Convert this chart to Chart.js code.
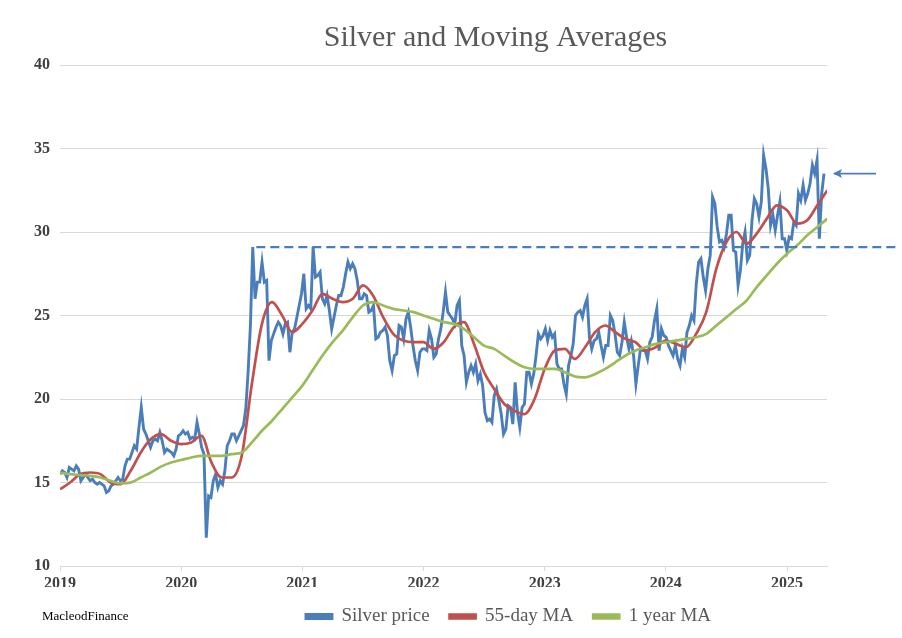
<!DOCTYPE html>
<html>
<head>
<meta charset="utf-8">
<script src="https://cdn.jsdelivr.net/npm/chart.js@4.4.1/dist/chart.umd.min.js"></script>
<style>
  html, body { margin: 0; padding: 0; background: #ffffff; }
  #wrap { position: relative; width: 902px; height: 638px; }
  #credit { position: absolute; left: 42px; top: 608px; font-family: "Liberation Serif", "DejaVu Serif", serif; font-size: 13px; color: #000; }
</style>
</head>
<body>
<div id="wrap">
  <canvas id="chart" width="902" height="638"></canvas>
  <div id="credit">MacleodFinance</div>
</div>
<script>
// ---- Data ----
// Weekly silver price, one array per calendar year (52 weeks each, 2025 partial)
const silver2019 = [15.5,15.7,15.6,15.3,15.9, 15.8,15.7,16.0,15.8, 15.1,15.3,15.5,15.3, 15.1,15.2,15.0,14.9,15.0, 14.9,14.8,14.4,14.5, 14.8,14.9,15.1,15.3, 15.1,15.2,16.0,16.4,16.4, 16.8,17.2,17.0,18.3, 19.5,18.2,17.9,17.5, 17.1,17.5,17.6,17.5,18.0, 17.5,16.8,17.0,16.9, 16.8,16.6,17.0,17.8];
const silver2020 = [17.9,18.1,17.9,18.0,17.6, 17.7,17.6,18.6,17.9, 17.1,16.7,11.7,14.2,14.1, 15.1,15.5,14.7,15.1, 14.9,15.7,17.2,17.5, 17.9,17.9,17.5,17.8, 18.1,18.4,19.4,21.6,24.4, 29.1,26.0,27.0,27.0, 28.2,27.0,27.1,22.3,23.5, 23.9,24.3,24.6,24.4, 23.9,24.5,24.6,22.8, 24.0,24.2,24.9,25.6];
const silver2021 = [26.3,27.5,25.4,25.6,25.4, 29.1,27.3,27.4,27.6, 26.0,25.7,26.2,25.3,24.2, 24.9,25.6,26.2,26.2, 26.7,27.5,28.2,27.8, 28.1,27.8,27.1,26.0,26.0, 26.3,26.2,25.2,25.3, 25.6,23.6,23.7,24.0,24.1, 24.3,23.8,22.3,21.7, 22.6,22.7,24.4,24.3, 23.6,24.8,25.2,24.3,23.2, 22.3,21.7,22.8];
const silver2022 = [23.0,23.0,22.9,24.1,23.6, 22.5,22.7,23.6,24.2, 25.2,26.4,25.2,25.0,24.8, 24.5,25.6,25.9,23.2, 22.6,21.0,21.6,22.0,21.6, 22.1,21.1,21.5,20.8, 19.2,18.7,18.8,18.6, 20.2,20.6,19.9,19.1,17.9, 18.2,19.6,19.5,18.5, 21.0,19.2,18.3,19.5, 19.7,21.6,21.6,20.9,21.5, 22.6,23.9,23.6];
const silver2023 = [23.8,24.2,23.5,24.1,23.7,23.9, 22.1,21.8,21.8,20.9, 20.3,22.0,22.6,23.3, 25.0,25.2,25.3,24.9, 25.6,26.0,23.7,23.0,23.5, 23.6,24.0,23.2,22.5, 23.2,23.2,25.0,24.7, 23.9,22.8,22.6,23.4,24.6, 23.7,23.0,23.5,22.6, 20.9,22.0,23.0,22.9,22.9, 22.4,23.4,23.7,24.7, 25.4,22.9,24.2];
const silver2024 = [23.8,23.7,23.2,22.9,22.6,23.2, 22.4,22.0,23.0,22.5, 24.0,24.4,25.0,24.7, 26.9,28.2,28.4,27.3,26.5, 27.8,28.6,32.1,31.7, 30.3,29.4,29.5,29.1, 29.9,31.0,31.0,28.9,28.8, 26.8,27.7,29.3,30.0, 28.3,28.6,30.7,32.0, 31.7,30.9,31.8,34.6,33.8, 32.6,30.4,31.0,30.1, 31.0,31.8,29.6];
const silver2025 = [29.6,28.9,29.7,29.6,30.6,30.4, 32.3,31.9,32.8,31.9, 32.3,32.9,34.0,33.5, 34.3,29.6,32.3,33.5];

// Monthly readings of the moving averages (Jan 2019 .. May 2025)
const ma55 = [
  14.6,15.0,15.5,15.6,15.5,15.0,14.9,15.7,16.8,17.6,17.9,17.5,
  17.3,17.4,17.8,16.2,15.3,15.3,16.6,20.9,24.5,25.8,25.0,24.0,
  24.5,25.3,26.3,26.0,25.8,26.0,26.8,26.2,24.9,23.9,23.5,23.4,
  23.4,23.0,23.4,24.3,24.6,23.3,21.6,20.6,19.7,19.3,19.1,20.0,
  21.8,22.9,23.0,22.4,23.1,24.0,24.4,24.0,23.6,23.4,22.9,23.1,
  23.5,23.3,23.1,23.9,25.2,27.8,29.4,30.0,29.3,29.9,30.8,31.6,
  31.3,30.5,30.7,31.6,32.5
];
const ma1y = [
  15.6,15.5,15.45,15.4,15.3,15.1,14.95,15.0,15.3,15.6,15.95,16.2,
  16.35,16.5,16.6,16.6,16.6,16.7,16.8,17.4,18.1,18.7,19.4,20.1,
  20.8,21.7,22.6,23.4,24.1,24.9,25.6,25.8,25.6,25.4,25.3,25.2,
  25.0,24.8,24.6,24.5,24.2,23.7,23.2,23.0,22.6,22.2,21.9,21.8,
  21.8,21.8,21.6,21.35,21.3,21.5,21.8,22.2,22.6,22.9,23.1,23.3,
  23.4,23.5,23.6,23.7,23.9,24.4,24.9,25.4,25.9,26.7,27.4,28.1,
  28.7,29.2,29.8,30.3,30.8
];

const yearTicks = [2019, 2020, 2021, 2022, 2023, 2024, 2025];
const seriesNames = ['Silver price', '55-day MA', '1 year MA'];
const resistanceLevel = 29.1;   // dashed horizontal line
const resistanceFrom = 2020.62; // starts at the Aug 2020 high
const arrowLevel = 33.5;        // arrow on the right margin

// ---- Build point lists (x = decimal year) ----
const silverWeekly = [].concat(silver2019, silver2020, silver2021, silver2022, silver2023, silver2024, silver2025);
const silverPoints = silverWeekly.map((v, i) => ({ x: 2019 + i * 7 / 365.25, y: v }));
const ma55Points = ma55.map((v, i) => ({ x: 2019 + i / 12, y: v }));
const ma1yPoints = ma1y.map((v, i) => ({ x: 2019 + i / 12, y: v }));

const BLUE = '#4a7ebb', RED = '#c0504d', GREEN = '#9bbb59';
const SERIF = '"Liberation Serif", "DejaVu Serif", serif';

const shiftPlugin = {
  id: 'shiftBlocks',
  afterLayout(chart) {
    if (chart.titleBlock) { chart.titleBlock.left += 78; chart.titleBlock.right += 78; }
    if (chart.legend) { chart.legend.left += 91; chart.legend.right += 91; }
  }
};

const annotPlugin = {
  id: 'annot',
  afterDatasetsDraw(chart) {
    const { ctx, scales: { x, y }, chartArea } = chart;
    ctx.save();
    const yy = y.getPixelForValue(resistanceLevel);
    ctx.strokeStyle = BLUE;
    ctx.lineWidth = 2.2;
    ctx.setLineDash([9, 5]);
    ctx.beginPath();
    ctx.moveTo(x.getPixelForValue(resistanceFrom), yy);
    ctx.lineTo(chart.width - 2, yy);
    ctx.stroke();
    ctx.setLineDash([]);
    const ay = y.getPixelForValue(arrowLevel);
    const tip = chartArea.right + 6;
    ctx.lineWidth = 1.8;
    ctx.beginPath();
    ctx.moveTo(chartArea.right + 49, ay);
    ctx.lineTo(tip + 1, ay);
    ctx.stroke();
    ctx.fillStyle = BLUE;
    ctx.beginPath();
    ctx.moveTo(tip, ay);
    ctx.lineTo(tip + 9, ay - 4.5);
    ctx.lineTo(tip + 7, ay);
    ctx.lineTo(tip + 9, ay + 4.5);
    ctx.closePath();
    ctx.fill();
    ctx.restore();
  }
};

new Chart(document.getElementById('chart'), {
  type: 'line',
  data: {
    datasets: [
      { label: seriesNames[0], data: silverPoints, borderColor: BLUE, backgroundColor: BLUE, borderWidth: 2.9, pointRadius: 0, tension: 0, order: 3 },
      { label: seriesNames[1], data: ma55Points, borderColor: RED, backgroundColor: RED, borderWidth: 2.7, pointRadius: 0, cubicInterpolationMode: 'monotone', order: 2 },
      { label: seriesNames[2], data: ma1yPoints, borderColor: GREEN, backgroundColor: GREEN, borderWidth: 2.7, pointRadius: 0, cubicInterpolationMode: 'monotone', order: 1 }
    ]
  },
  options: {
    responsive: false,
    animation: false,
    layout: { padding: { left: 8, right: 75, top: 0, bottom: 2 } },
    plugins: {
      title: {
        display: true,
        text: 'Silver and Moving Averages',
        color: '#595959',
        font: { family: SERIF, size: 30, weight: 'normal' },
        padding: { top: 20, bottom: 9 }
      },
      legend: {
        position: 'bottom',
        labels: {
          color: '#595959',
          font: { family: SERIF, size: 19 },
          boxWidth: 26,
          boxHeight: 4,
          padding: 20,
          sort: (a, b) => a.datasetIndex - b.datasetIndex
        }
      },
      tooltip: { enabled: false }
    },
    scales: {
      x: {
        type: 'linear',
        min: 2019,
        max: 2025.33,
        afterBuildTicks: s => { s.ticks = yearTicks.map(v => ({ value: v })); },
        afterFit: s => { s.height = 21; },
        ticks: { color: '#404040', font: { family: SERIF, size: 16, weight: 'bold' }, padding: 3, maxRotation: 0, callback: v => String(v) },
        grid: { drawOnChartArea: false, drawTicks: true, tickLength: 5, color: '#d9d9d9' },
        border: { display: true, color: '#d9d9d9' }
      },
      y: {
        min: 10,
        max: 40,
        afterFit: s => { s.width = 52; },
        ticks: { stepSize: 5, color: '#404040', font: { family: SERIF, size: 16, weight: 'bold' }, padding: 10 },
        grid: { color: '#d9d9d9', drawTicks: false },
        border: { display: false }
      }
    }
  },
  plugins: [shiftPlugin, annotPlugin]
});
</script>
</body>
</html>
